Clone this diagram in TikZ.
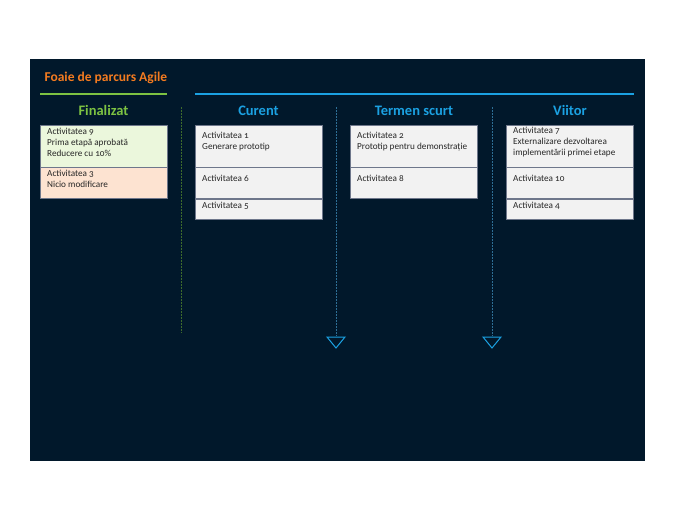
\documentclass[tikz,border=0pt]{standalone}
\usepackage{fontspec}
\setmainfont[Numbers=OldStyle]{Carlito}
\usetikzlibrary{calc}

\definecolor{bgnavy}{HTML}{01182B}
\definecolor{titleorange}{HTML}{F47B20}
\definecolor{donegreen}{HTML}{7DC242}
\definecolor{nowblue}{HTML}{1BA1E2}
\definecolor{dotgreen}{HTML}{3E6B2C}
\definecolor{dotblue}{HTML}{2E6F96}
\definecolor{cardgreen}{HTML}{EBF7DC}
\definecolor{cardpeach}{HTML}{FDE3D1}
\definecolor{cardgray}{HTML}{F2F2F2}
\definecolor{cardedge}{HTML}{6E778B}

\tikzset{
  card/.style={draw=cardedge, line width=1.1pt, anchor=north west, minimum width=127pt, inner sep=0pt},
  cardtxt/.style={anchor=north west, align=left, inner sep=0pt, font=\fontsize{9.2}{11}\selectfont, text=black!85},
  colhead/.style={font=\bfseries\fontsize{14.5}{18}\selectfont},
  lane/.style={line width=1pt, dash pattern=on 1.5pt off 1.5pt}
}

\begin{document}
\begin{tikzpicture}[x=1pt,y=-1pt]

% page + dark panel
\fill[white] (0,0) rectangle (675,520);
\fill[bgnavy] (30,59) rectangle (645,461);

% title
\node[anchor=west, text=titleorange, font=\bfseries\fontsize{13.5}{16}\selectfont] (title) at (41,77.5) {Foaie de parcurs Agile};

% header bars
\draw[donegreen, line width=2pt] (40,94) -- (167,94);
\draw[nowblue, line width=2pt] (195,94) -- (634,94);

% column headings
\node[colhead, text=donegreen] (hdone) at (103.5,110.5) {Finalizat};
\node[colhead, text=nowblue] (hnow) at (258.5,110.5) {Curent};
\node[colhead, text=nowblue] (hshort) at (414,110.5) {Termen scurt};
\node[colhead, text=nowblue] (hlater) at (570,110.5) {Viitor};

% lanes
\coordinate (l1a) at (181,107); \coordinate (l1b) at (181,333);
\coordinate (l2a) at (336,107); \coordinate (l2b) at (336,336);
\coordinate (l3a) at (492,107); \coordinate (l3b) at (492,336);
\draw[lane, dotgreen] (l1a) -- (l1b);
\draw[lane, dotblue] (l2a) -- (l2b);
\draw[lane, dotblue] (l3a) -- (l3b);
\foreach \t in {l2b,l3b}{
  \draw[nowblue, line width=1pt, line join=miter, fill=bgnavy]
    ($(\t)+(-9,1)$) -- ($(\t)+(9,1)$) -- ($(\t)+(0,12)$) -- cycle;
}

% Finalizat
\node[card, fill=cardgreen, minimum height=42pt] (f1) at (40,125) {};
\node[card, fill=cardpeach, minimum height=31pt] (f2) at (40,167) {};
\node[cardtxt] (f1t) at ([xshift=7pt,yshift=-3pt]f1.north west) {Activitatea 9\\Prima etapă aprobată\\Reducere cu 10\%};
\node[cardtxt] (f2t) at ([xshift=7pt,yshift=-2.5pt]f2.north west) {Activitatea 3\\Nicio modificare};

% Curent
\node[card, fill=cardgray, minimum height=42pt] (c1) at (195,125) {};
\node[card, fill=cardgray, minimum height=31pt] (c2) at (195,167) {};
\node[card, fill=cardgray, minimum height=20pt] (c3) at (195,199) {};
\node[cardtxt] (c1t) at ([xshift=7pt,yshift=-7pt]c1.north west) {Activitatea 1\\Generare prototip};
\node[cardtxt] (c2t) at ([xshift=7pt,yshift=-8pt]c2.north west) {Activitatea 6};
\node[cardtxt] (c3t) at ([xshift=7pt,yshift=-2.5pt]c3.north west) {Activitatea 5};

% Termen scurt
\node[card, fill=cardgray, minimum height=42pt] (s1) at (350,125) {};
\node[card, fill=cardgray, minimum height=31pt] (s2) at (350,167) {};
\node[cardtxt] (s1t) at ([xshift=7pt,yshift=-7pt]s1.north west) {Activitatea 2\\Prototip pentru demonstrație};
\node[cardtxt] (s2t) at ([xshift=7pt,yshift=-8pt]s2.north west) {Activitatea 8};

% Viitor
\node[card, fill=cardgray, minimum height=42pt] (v1) at (506,125) {};
\node[card, fill=cardgray, minimum height=31pt] (v2) at (506,167) {};
\node[card, fill=cardgray, minimum height=20pt] (v3) at (506,199) {};
\node[cardtxt] (v1t) at ([xshift=7pt,yshift=-2pt]v1.north west) {Activitatea 7\\Externalizare dezvoltarea\\implementării primei etape};
\node[cardtxt] (v2t) at ([xshift=7pt,yshift=-8pt]v2.north west) {Activitatea 10};
\node[cardtxt] (v3t) at ([xshift=7pt,yshift=-2.5pt]v3.north west) {Activitatea 4};

\end{tikzpicture}
\end{document}
